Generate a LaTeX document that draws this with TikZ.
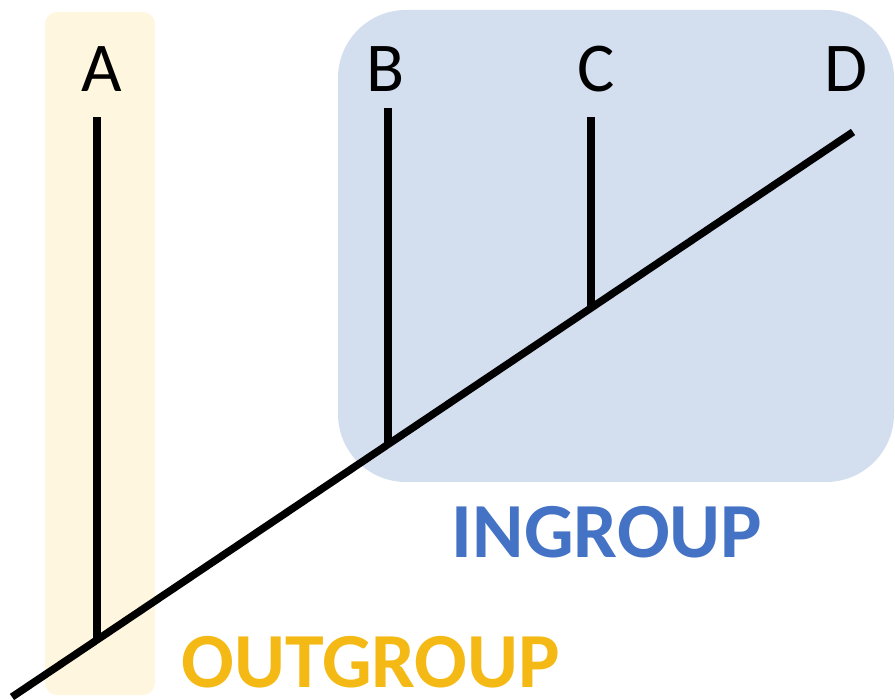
\documentclass[tikz,border=0pt]{standalone}
\usepackage{fontspec}
\setmainfont{Carlito}
\definecolor{ingroupfill}{RGB}{211,222,239}
\definecolor{outgroupfill}{RGB}{255,246,224}
\definecolor{ingrouptext}{RGB}{68,114,196}
\definecolor{outgrouptext}{RGB}{244,185,20}
\tikzset{
  taxon/.style={inner sep=0pt, anchor=base, font=\fontsize{70}{70}\selectfont},
  grouplabel/.style={inner sep=0pt, anchor=base, font=\fontsize{78}{78}\selectfont\bfseries},
  branch/.style={line width=7.5pt, black},
}
\begin{document}
\begin{tikzpicture}[x=1pt,y=-1pt]
\useasboundingbox (0,0) rectangle (895,700);
% group backgrounds
\fill[outgroupfill, rounded corners=12pt] (45,12) rectangle (155,695);
\fill[ingroupfill, rounded corners=68pt] (338,10) rectangle (894,482);
% taxon labels
\node[taxon] (A) at (102,92) {A};
\node[taxon] (B) at (386,92) {B};
\node[taxon] (C) at (596,92) {C};
\node[taxon] (D) at (846,92) {D};
% group labels
\node[grouplabel, text=ingrouptext] (ing) at (607,558) {INGROUP};
\node[grouplabel, text=outgrouptext] (outg) at (371,687) {OUTGROUP};
% tree coordinates
\coordinate (root) at (12,697);
\coordinate (tipD) at (853,132);
\coordinate (jA) at (97,640);
\coordinate (jB) at (388,444.4);
\coordinate (jC) at (591,308);
\coordinate (tipA) at (97,117);
\coordinate (tipB) at (388,108);
\coordinate (tipC) at (591,117);
% branches
\draw[branch] (root) -- (tipD);
\draw[branch] (jA) -- (tipA);
\draw[branch] (jB) -- (tipB);
\draw[branch] (jC) -- (tipC);
\end{tikzpicture}
\end{document}
